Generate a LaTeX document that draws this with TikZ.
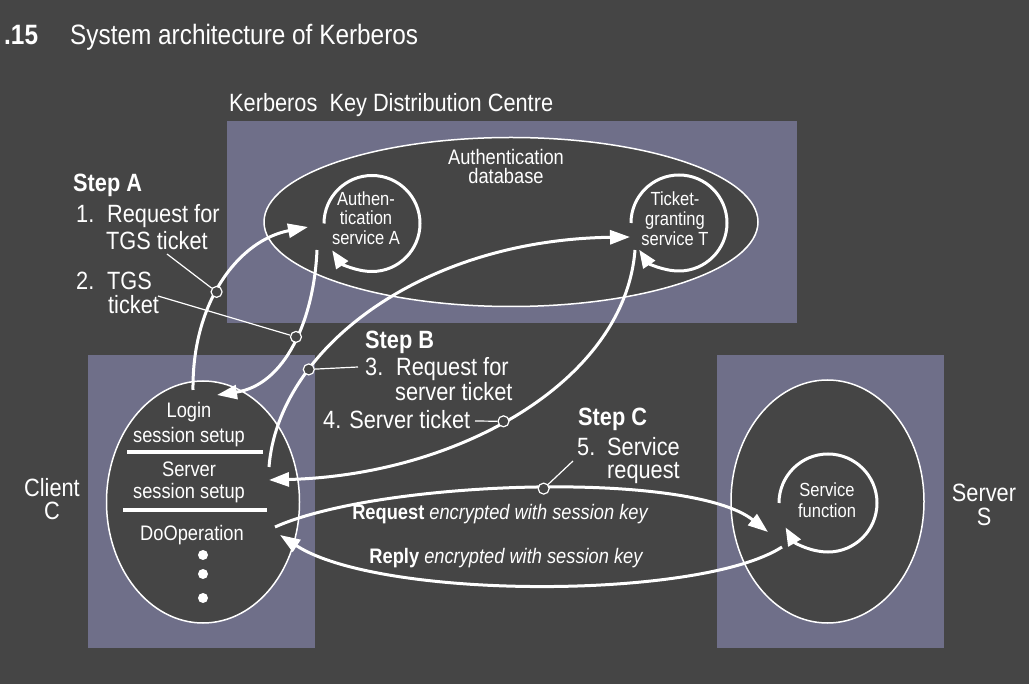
\documentclass[tikz,border=0pt]{standalone}
\usepackage{fontspec}
\setmainfont{Liberation Sans}[FakeStretch=0.87]
\usetikzlibrary{arrows.meta,shapes.geometric,calc}
\definecolor{bgcol}{RGB}{69,69,69}
\definecolor{boxcol}{RGB}{111,111,137}
\newcommand{\bigf}{\fontsize{25}{27}\selectfont}
\newcommand{\midf}{\fontsize{21}{25}\selectfont}
\begin{document}
\begin{tikzpicture}[x=1pt,y=-1pt,
  box/.style={fill=boxcol, draw=none},
  oval/.style={ellipse, draw=white, line width=1.5pt, fill=bgcol, inner sep=0pt},
  flow/.style={draw=white, line width=3pt, -{Triangle[length=20pt,width=14pt]}},
  loopar/.style={draw=white, line width=3pt, -{Triangle[length=18pt,width=14pt]}},
  marker/.style={circle, draw=white, line width=1.2pt, fill=bgcol, minimum size=11pt, inner sep=0pt},
  leader/.style={draw=white, line width=1.2pt},
  sepline/.style={draw=white, line width=4pt},
  txt/.style={text=white, inner sep=0pt, font=\bigf},
  lab/.style={txt, anchor=mid west},
  steplab/.style={txt, anchor=mid west, font=\bfseries\bigf}
]
\useasboundingbox (0,0) rectangle (1029,684);
\fill[bgcol] (0,0) rectangle (1029,684);

% title
\node[lab, font=\bfseries\fontsize{28}{30}\selectfont] (num) at (4,42) {.15};
\node[lab, font=\fontsize{28}{30}\selectfont] (title) at (70,42) {System architecture of Kerberos};

% boxes
\fill[box] (227,121) rectangle (797,323);
\fill[box] (88,355) rectangle (315,648);
\fill[box] (717,355) rectangle (944,648);

\node[lab] (kdclbl) at (229,109) {Kerberos\ \ Key Distribution Centre};

% ellipses
\node[oval, minimum width=494pt, minimum height=169pt] (authdb) at (511,222) {};
\node[oval, minimum width=193pt, minimum height=242pt] (client) at (203,502) {};
\node[oval, minimum width=193pt, minimum height=243pt] (server) at (827.5,501.5) {};

% inner texts
\node[txt, align=center, font=\fontsize{21}{19}\selectfont] (dbtxt) at (506,166) {Authentication\\database};
\node[txt, align=center, font=\fontsize{19}{19.5}\selectfont] (atxt) at (366,218) {Authen-\\tication\\service A};
\node[txt, align=center, font=\fontsize{19}{20}\selectfont] (ttxt) at (675,219) {Ticket-\\granting\\service T};
\node[txt, align=center, font=\fontsize{21}{25}\selectfont] (logintxt) at (189,425) {Login\\session setup};
\node[txt, align=center, font=\fontsize{21}{22}\selectfont] (servtxt) at (189,482) {Server\\session setup};
\node[txt, font=\midf] (doop) at (192,535) {DoOperation};
\node[txt, align=center, font=\fontsize{19}{21}\selectfont] (sftxt) at (827,500) {Service\\function};

\draw[sepline] (127,452) -- (263,452);
\draw[sepline] (123,510) -- (267,510);
\fill[white] (203,555) circle (5);
\fill[white] (203,574) circle (5);
\fill[white] (203,598) circle (5);

% service loops
\coordinate (cA) at (372,223.5);
\coordinate (cT) at (679,223);
\coordinate (cS) at (828,503);
\draw[loopar] ($(cA)+(180:48)$) arc[start angle=180, end angle=506, radius=48];
\draw[loopar] ($(cT)+(180:48)$) arc[start angle=180, end angle=506, radius=48];
\draw[loopar] ($(cS)+(180:49)$) arc[start angle=180, end angle=510, radius=49];

% arrow end points
\coordinate (p1s) at (193,390);
\coordinate (p1e) at (308,227);
\coordinate (p2s) at (317,250);
\coordinate (p2e) at (217,395);
\coordinate (p3s) at (269,467);
\coordinate (p3e) at (630,237);
\coordinate (p4s) at (635,250);
\coordinate (p4e) at (269,480);
\coordinate (p5s) at (275,527);
\coordinate (p5e) at (768,532);
\coordinate (p6s) at (782,547);
\coordinate (p6e) at (280,535);

\draw[flow] (p1s) .. controls (192,300) and (240,240) .. node[marker, pos=0.43] (m1) {} (p1e);
\draw[flow] (p2s) .. controls (314,320) and (285,385) .. node[marker, pos=0.45] (m2) {} (p2e);
\draw[flow] (p3s) .. controls (278,350) and (420,240) .. node[marker, pos=0.29] (m3) {} (p3e);
\draw[flow] (p4s) .. controls (625,380) and (460,475) .. node[marker, pos=0.54] (m4) {} (p4e);
\draw[flow] (p5s) .. controls (380,480) and (690,470) .. node[marker, pos=0.52] (m5) {} (p5e);
\draw[flow] (p6s) .. controls (700,600) and (380,600) .. (p6e);

% labels
\node[steplab] (stepA) at (73,189) {Step A};
\node[lab] (n1) at (76,220) {1.};
\node[lab] (r1a) at (107,220) {Request for};
\node[lab] (r1b) at (106,247) {TGS ticket};
\node[lab] (n2) at (76,287) {2.};
\node[lab] (t2a) at (107,287) {TGS};
\node[lab] (t2b) at (108,311) {ticket};

\node[steplab] (stepB) at (365,346) {Step B};
\node[lab] (n3) at (365,373) {3.};
\node[lab] (r3a) at (396,373) {Request for};
\node[lab] (r3b) at (395,398) {server ticket};
\node[lab] (r4) at (323,426) {4. Server ticket};

\node[steplab] (stepC) at (578,423) {Step C};
\node[lab] (n5) at (577,453) {5.};
\node[lab] (r5a) at (607,453) {Service};
\node[lab] (r5b) at (607,476) {request};

\node[txt, font=\fontsize{21}{23}\selectfont] (reqlbl) at (500,514) {{\bfseries Request} {\itshape encrypted with session key}};
\node[txt, font=\fontsize{21}{23}\selectfont] (replbl) at (506,558) {{\bfseries Reply} {\itshape encrypted with session key}};

\node[txt, align=center, font=\fontsize{25}{23}\selectfont] (clbl) at (52,499) {Client\\C};
\node[txt, align=center, font=\fontsize{25}{24}\selectfont] (slbl) at (984,505) {Server\\S};

% leader lines
\coordinate (l1) at (167,254);
\coordinate (l2) at (158,296);
\coordinate (l3) at (358,367);
\coordinate (l4) at (475,421);
\coordinate (l5) at (573,461);
\draw[leader] (l1) -- (m1);
\draw[leader] (l2) -- (m2);
\draw[leader] (m3) -- (l3);
\draw[leader] (l4) -- (m4);
\draw[leader] (l5) -- (m5);
\end{tikzpicture}
\end{document}
